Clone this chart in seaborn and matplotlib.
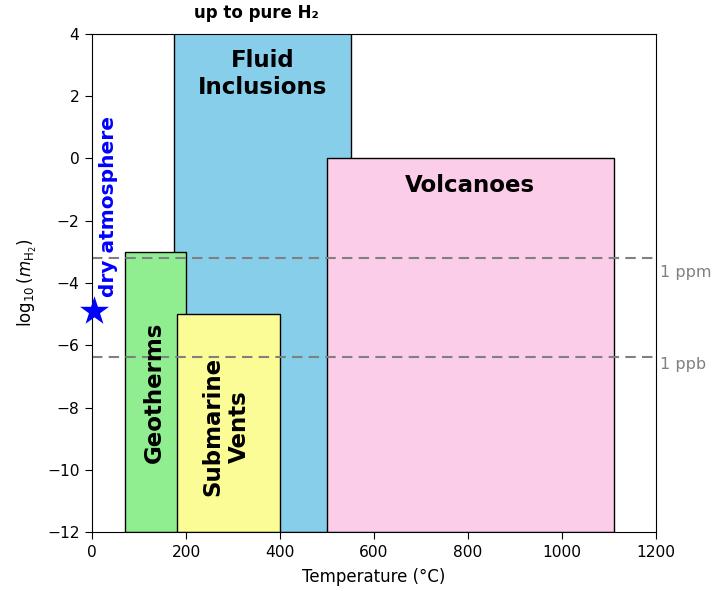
import matplotlib
matplotlib.use("Agg")
import matplotlib.pyplot as plt
import seaborn as sns
import pandas as pd

# Environments: temperature range (°C) and log10 H2 molality range
names = ["Fluid\nInclusions", "Volcanoes", "Geotherms", "Submarine\nVents"]
t_min = [175, 500, 70, 180]
t_max = [550, 1110, 200, 400]
logm_min = [-12, -12, -12, -12]
logm_max = [6, 0, -3, -5]
colors = ["#87ceeb", "#fccde8", "#90ee90", "#fcfc96"]
label_x = [362.5, 805, 132, 285]
label_y = [2.72, -0.88, -7.5, -8.6]
label_rot = [0, 0, 90, 90]

# Reference concentration levels
ref_names = ["1 ppm", "1 ppb"]
ref_logm = [-3.2, -6.38]
ref_label_y = [-3.65, -6.62]

# Dry atmosphere point
atm_t = [5]
atm_logm = [-4.9]

sns.set_style("ticks", {"axes.edgecolor": "black", "text.color": "black",
                        "xtick.color": "black", "ytick.color": "black",
                        "axes.labelcolor": "black"})
plt.rcParams["font.family"] = ["DejaVu Sans"]
plt.rcParams["xtick.major.size"] = 5
plt.rcParams["ytick.major.size"] = 5
plt.rcParams["xtick.major.pad"] = 4
plt.rcParams["ytick.major.pad"] = 4

df = pd.DataFrame({"name": names, "t0": t_min, "t1": t_max,
                   "m0": logm_min, "m1": logm_max, "color": colors})

fig = plt.figure(figsize=(7.15, 5.91), dpi=100)
ax = fig.add_axes([0.1287, 0.0998, 0.7888, 0.8427])

for _, r in df.iterrows():
    ax.bar(r.t0, r.m1 - r.m0, width=r.t1 - r.t0, bottom=r.m0, align="edge",
           color=r.color, edgecolor="black", linewidth=1.0)

for name, x, y, rot in zip(names, label_x, label_y, label_rot):
    ax.text(x, y, name, ha="center", va="center", rotation=rot,
            fontsize=16.5, fontweight="bold")

ref_df = pd.DataFrame({"x": [0, 1200] * len(ref_logm),
                       "y": [v for v in ref_logm for _ in range(2)],
                       "level": [n for n in ref_names for _ in range(2)]})
for lvl, g in ref_df.groupby("level"):
    sns.lineplot(data=g, x="x", y="y", ax=ax, color="gray",
                 linestyle=(0, (5, 3)), linewidth=1.5)
for name, y in zip(ref_names, ref_label_y):
    ax.text(1208, y, name, ha="left", va="center", color="gray",
            fontsize=11.5, clip_on=False)

sns.scatterplot(x=atm_t, y=atm_logm, ax=ax, marker="*", s=480,
                color="blue", edgecolor="blue", linewidth=0, clip_on=False,
                zorder=5)
ax.text(34, -4.45, "dry atmosphere", rotation=90, ha="center", va="bottom",
        color="blue", fontsize=14.5, fontweight="bold")

ax.text(350, 4.38, "up to pure H\u2082", ha="center", va="bottom",
        fontsize=12, fontweight="bold", clip_on=False)

ax.set_xlim(0, 1200)
ax.set_ylim(-12, 4)
ax.set_xticks(range(0, 1201, 200))
ax.set_yticks(range(-12, 5, 2))
ax.tick_params(labelsize=11.2)
ax.set_xlabel("Temperature (°C)", fontsize=12, labelpad=6)
ax.set_ylabel(r"$\log_{10}(m_{\mathrm{H_2}})$", fontsize=12, labelpad=6)

fig.savefig("out.png", dpi=100)
